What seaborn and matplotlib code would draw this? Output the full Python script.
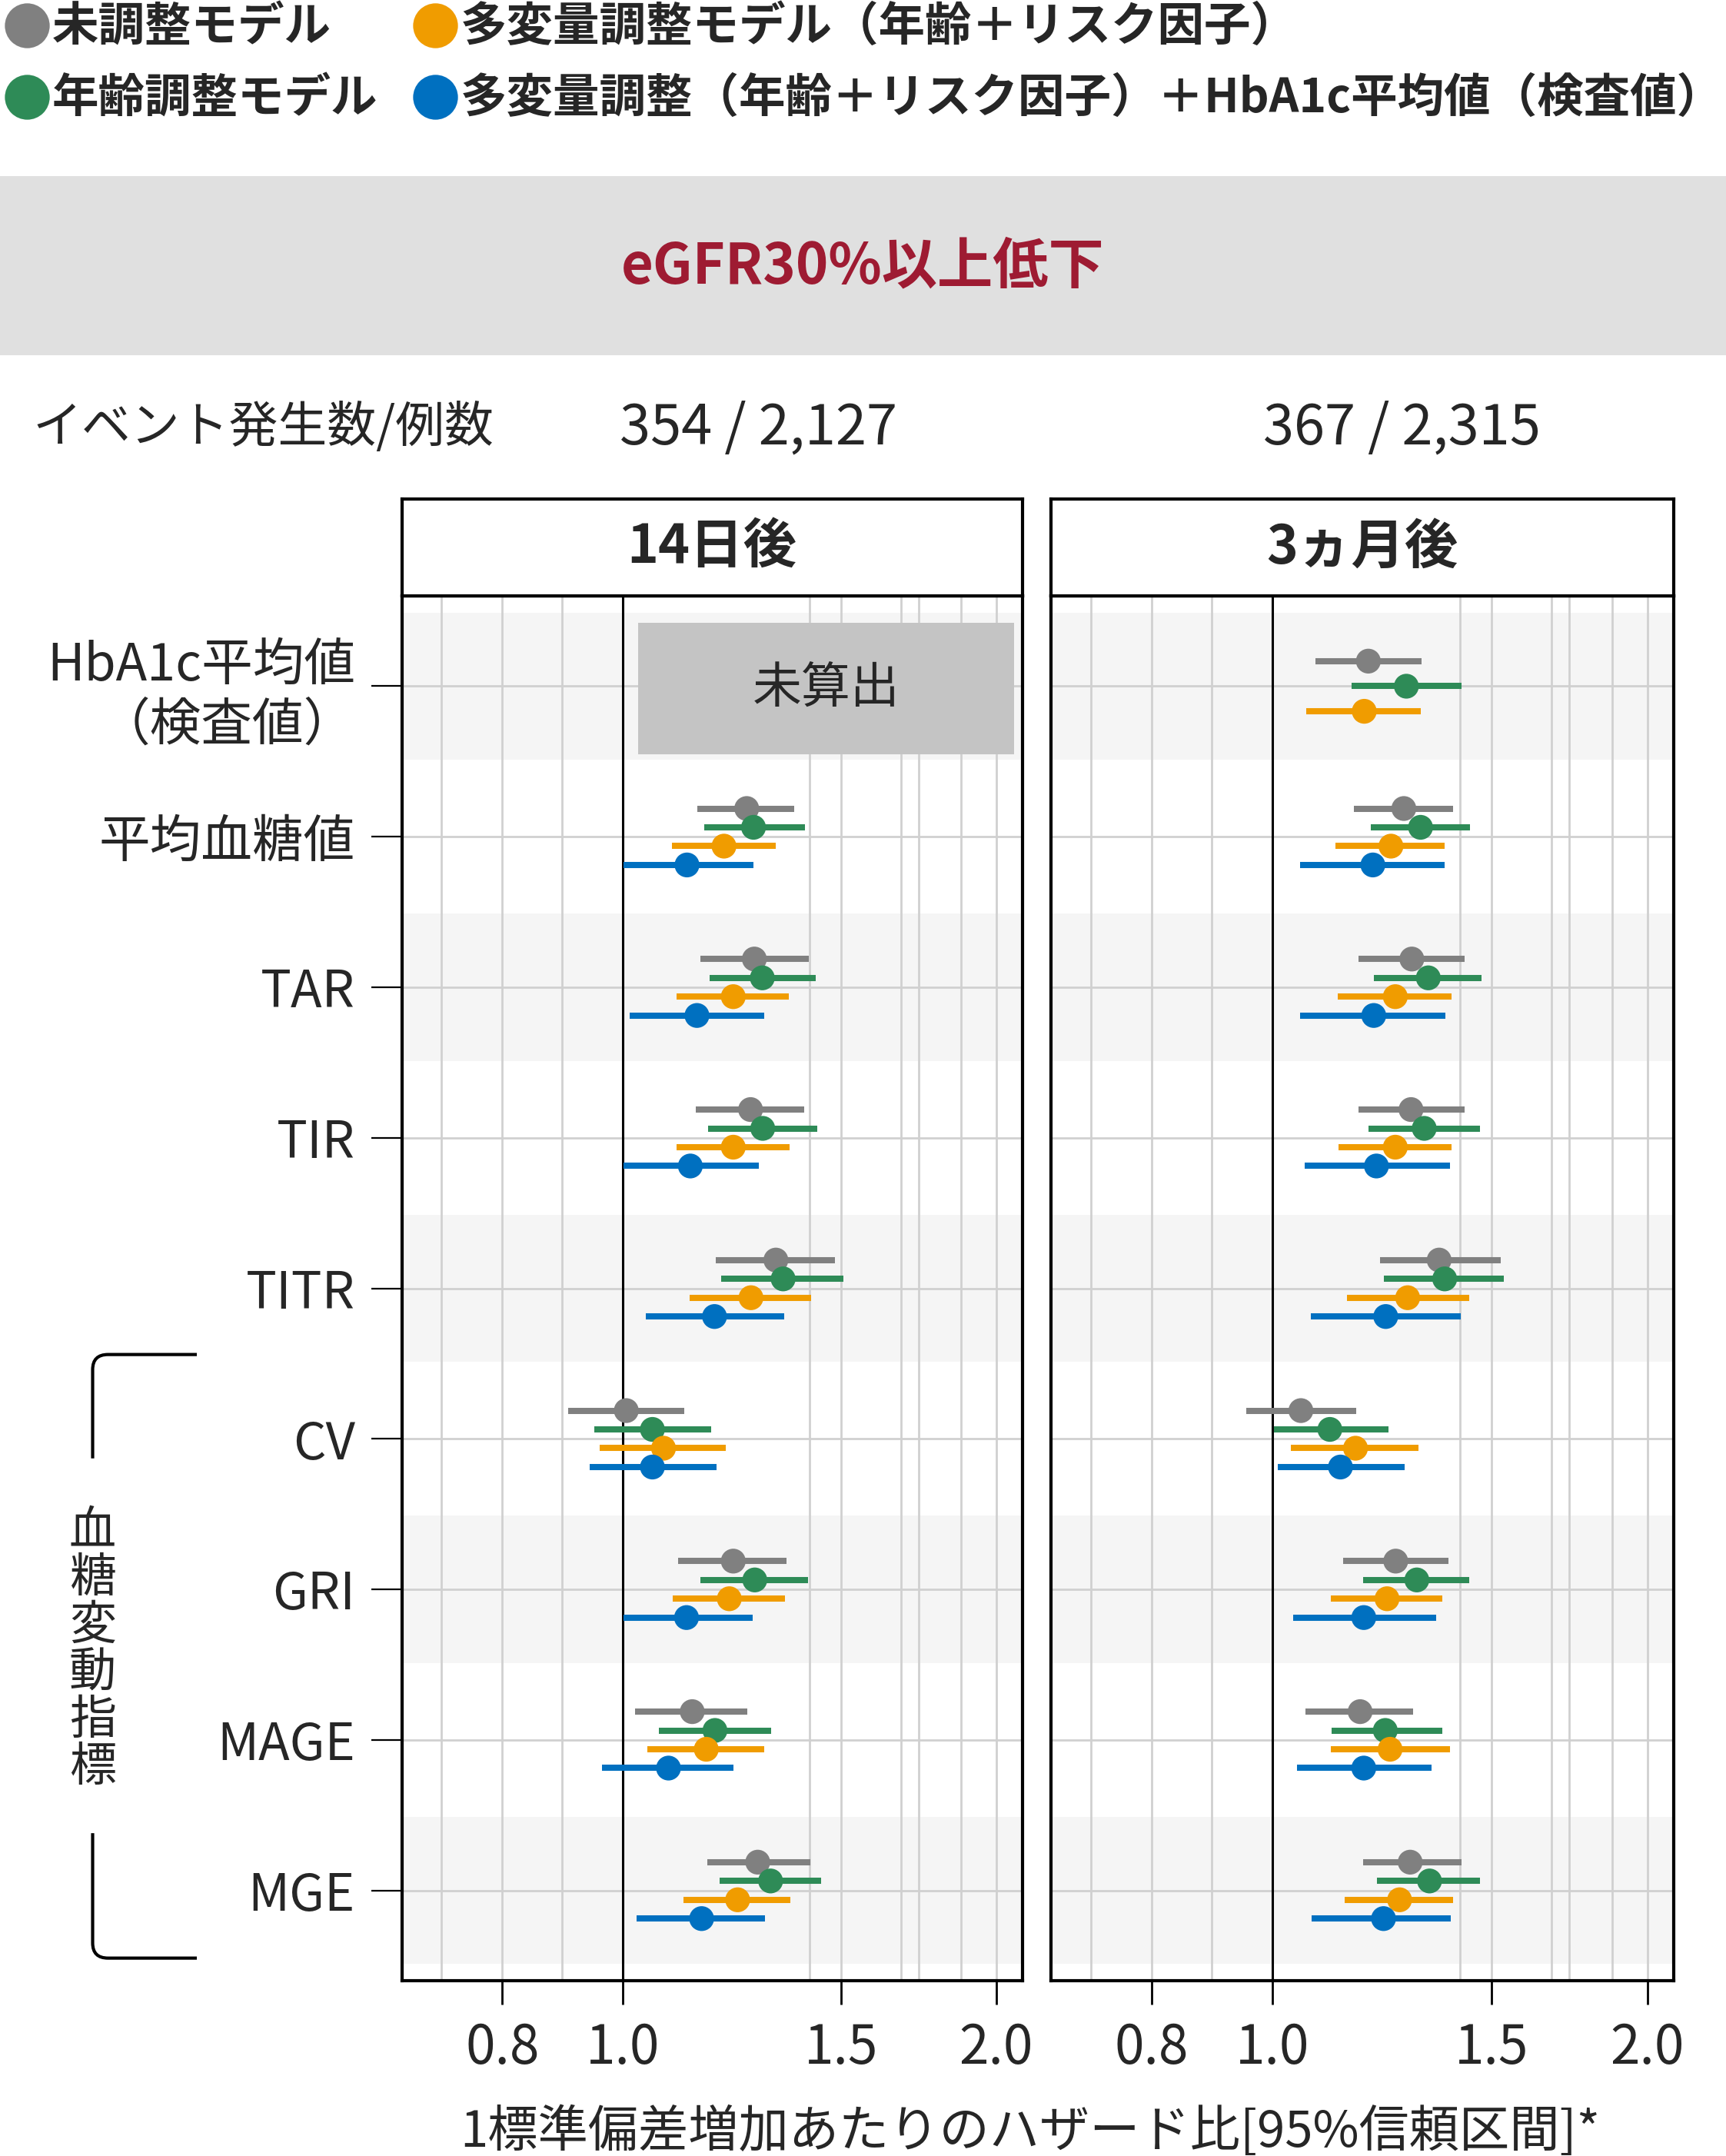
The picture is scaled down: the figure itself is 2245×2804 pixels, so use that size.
import numpy as np
import pandas as pd
import matplotlib
matplotlib.use("Agg")
import matplotlib.pyplot as plt
import matplotlib.transforms as mtransforms
from matplotlib.lines import Line2D
from matplotlib.patches import Rectangle, PathPatch
from matplotlib.path import Path
from matplotlib.ticker import FixedLocator, NullFormatter
import seaborn as sns

sns.set_theme(style="white")
plt.rcParams['font.family'] = ['Noto Sans CJK JP', 'DejaVu Sans']

# ---------------- data ----------------
categories = ["HbA1c平均値\n（検査値）", "平均血糖値", "TAR", "TIR", "TITR",
              "CV", "GRI", "MAGE", "MGE"]
models = ["未調整モデル", "年齢調整モデル",
          "多変量調整モデル（年齢＋リスク因子）",
          "多変量調整（年齢＋リスク因子）＋HbA1c平均値（検査値）"]
model_colors = ["#808080", "#2E8B57", "#F09C00", "#0070C0"]
panels = ["14日後", "3ヵ月後"]
event_counts = ["354 / 2,127", "367 / 2,315"]
nan = np.nan

# 14日後
d14_unadj_hr = [nan, 1.259, 1.277, 1.268, 1.329, 1.007, 1.228, 1.138, 1.285]
d14_unadj_lo = [nan, 1.149, 1.155, 1.145, 1.189, 0.904, 1.109, 1.024, 1.170]
d14_unadj_hi = [nan, 1.375, 1.412, 1.400, 1.482, 1.122, 1.356, 1.261, 1.416]
d14_age_hr = [nan, 1.275, 1.296, 1.297, 1.347, 1.057, 1.278, 1.187, 1.316]
d14_age_lo = [nan, 1.164, 1.176, 1.172, 1.201, 0.949, 1.156, 1.070, 1.198]
d14_age_hi = [nan, 1.402, 1.431, 1.434, 1.507, 1.178, 1.411, 1.317, 1.446]
d14_multi_hr = [nan, 1.207, 1.228, 1.228, 1.269, 1.079, 1.219, 1.168, 1.238]
d14_multi_lo = [nan, 1.096, 1.106, 1.105, 1.133, 0.958, 1.097, 1.047, 1.120]
d14_multi_hi = [nan, 1.328, 1.362, 1.363, 1.419, 1.211, 1.351, 1.301, 1.365]
d14_hba1c_hr = [nan, 1.127, 1.148, 1.134, 1.186, 1.057, 1.126, 1.089, 1.158]
d14_hba1c_lo = [nan, 1.002, 1.014, 1.002, 1.044, 0.941, 1.002, 0.963, 1.027]
d14_hba1c_hi = [nan, 1.274, 1.300, 1.287, 1.349, 1.190, 1.273, 1.228, 1.303]

# 3ヵ月後
m3_unadj_hr = [1.194, 1.275, 1.294, 1.292, 1.361, 1.054, 1.256, 1.176, 1.290]
m3_unadj_lo = [1.083, 1.163, 1.173, 1.172, 1.220, 0.953, 1.139, 1.063, 1.182]
m3_unadj_hi = [1.318, 1.396, 1.426, 1.426, 1.526, 1.168, 1.384, 1.297, 1.418]
m3_age_hr = [1.281, 1.315, 1.334, 1.324, 1.375, 1.112, 1.306, 1.232, 1.337]
m3_age_lo = [1.158, 1.199, 1.206, 1.195, 1.229, 1.003, 1.183, 1.115, 1.213]
m3_age_hi = [1.418, 1.440, 1.471, 1.468, 1.534, 1.240, 1.438, 1.369, 1.467]
m3_multi_hr = [1.185, 1.245, 1.255, 1.255, 1.284, 1.166, 1.236, 1.243, 1.265]
m3_multi_lo = [1.064, 1.123, 1.129, 1.130, 1.147, 1.035, 1.114, 1.114, 1.143]
m3_multi_hi = [1.316, 1.375, 1.393, 1.393, 1.438, 1.310, 1.369, 1.389, 1.396]
m3_hba1c_hr = [nan, 1.204, 1.206, 1.212, 1.233, 1.134, 1.184, 1.184, 1.228]
m3_hba1c_lo = [nan, 1.053, 1.053, 1.062, 1.074, 1.010, 1.039, 1.046, 1.075]
m3_hba1c_hi = [nan, 1.375, 1.377, 1.388, 1.416, 1.276, 1.353, 1.342, 1.391]

x_major = [0.8, 1.0, 1.5, 2.0]
x_major_labels = ["0.8", "1.0", "1.5", "2.0"]
x_minor = [0.715, 0.894, 1.414, 1.676, 1.732, 1.873]

series = {
    panels[0]: [(d14_unadj_hr, d14_unadj_lo, d14_unadj_hi),
                (d14_age_hr, d14_age_lo, d14_age_hi),
                (d14_multi_hr, d14_multi_lo, d14_multi_hi),
                (d14_hba1c_hr, d14_hba1c_lo, d14_hba1c_hi)],
    panels[1]: [(m3_unadj_hr, m3_unadj_lo, m3_unadj_hi),
                (m3_age_hr, m3_age_lo, m3_age_hi),
                (m3_multi_hr, m3_multi_lo, m3_multi_hi),
                (m3_hba1c_hr, m3_hba1c_lo, m3_hba1c_hi)],
}

rows = []
for p in panels:
    for mi, (hr, lo, hi) in enumerate(series[p]):
        for ci in range(len(categories)):
            rows.append(dict(panel=p, cat=ci, model=models[mi], mi=mi,
                             hr=hr[ci], lo=lo[ci], hi=hi[ci]))
df = pd.DataFrame(rows).dropna().reset_index(drop=True)

# dodge (width 0.5) among the models present in each row
DODGE = 0.5
def dodge(g):
    g = g.sort_values("mi").copy()
    n = len(g)
    g["y"] = g["cat"] + (np.arange(n) - (n - 1) / 2) * DODGE / n
    return g
df = pd.concat([dodge(g) for _, g in df.groupby(["panel", "cat"])], ignore_index=True)

palette = dict(zip(models, model_colors))

# ---------------- figure ----------------
W, H = 2245, 2804
DPI = 200
fig = plt.figure(figsize=(W / DPI, H / DPI), dpi=DPI)

def fx(px):
    return px / W

def fy(py):
    return 1 - py / H

panel_top, panel_bot = 775, 2576
strip_top = 649
panel_x = [(522.6, 1330), (1367, 2177)]

axes = []
for k, p in enumerate(panels):
    x0, x1 = panel_x[k]
    ax = fig.add_axes([fx(x0), fy(panel_bot), fx(x1 - x0), (panel_bot - panel_top) / H])
    axes.append(ax)
    ax.set_xscale("log")
    sub = df[df.panel == p]

    # alternating row bands
    for ci in range(0, len(categories), 2):
        ax.axhspan(ci - 0.49, ci + 0.49, color="#F5F5F5", zorder=0.1, lw=0)

    ax.axvline(1.0, color="black", lw=1.1, zorder=1.5)

    for m in models:
        s = sub[sub.model == m]
        ax.hlines(s["y"], s["lo"], s["hi"], colors=palette[m], lw=2.9, zorder=2)
    sns.scatterplot(data=sub, x="hr", y="y", hue="model", palette=palette,
                    hue_order=models, s=135, linewidth=0, legend=False,
                    zorder=3, ax=ax)

    ax.set_xlim(0.664, 2.10)
    ax.set_ylim(8.6, -0.6)
    ax.set_xlabel("")
    ax.set_ylabel("")
    ax.set_xticks(x_major)
    ax.set_xticklabels(x_major_labels, fontsize=25)
    ax.xaxis.set_minor_locator(FixedLocator(x_minor))
    ax.xaxis.set_minor_formatter(NullFormatter())
    ax.set_yticks(range(len(categories)))
    ax.set_axisbelow(True)
    ax.grid(True, which="both", axis="x", color="#D0D0D0", lw=1.0, zorder=0.5)
    ax.grid(True, which="major", axis="y", color="#D0D0D0", lw=1.0, zorder=0.5)
    ax.tick_params(axis="x", which="major", bottom=True, length=11, width=1.0,
                   color="black", pad=8, labelsize=25)
    ax.tick_params(axis="x", which="minor", bottom=False, length=0)
    if k == 0:
        ax.set_yticklabels(categories, fontsize=24)
        ax.tick_params(axis="y", left=True, length=14.4, width=0.8,
                       color="black", pad=7.5, labelsize=24)
    else:
        ax.set_yticklabels([])
        ax.tick_params(axis="y", left=False, length=0)
    for sp in ax.spines.values():
        sp.set_color("black")
        sp.set_linewidth(1.5)
        sp.set_visible(True)

    # strip header
    sax = fig.add_axes([fx(x0), fy(panel_top), fx(x1 - x0), (panel_top - strip_top) / H])
    sax.set_xticks([])
    sax.set_yticks([])
    sax.set_facecolor("white")
    for sp in sax.spines.values():
        sp.set_color("black")
        sp.set_linewidth(1.5)
        sp.set_visible(True)
    sax.text(0.5, 0.5, p, ha="center", va="center", fontsize=25,
             fontweight="bold", transform=sax.transAxes)

# "未算出" box in 14日後 HbA1c row
axL = axes[0]
axL.add_patch(Rectangle((1.029, -0.42), 2.066 - 1.029, 0.87, facecolor="#C4C4C4",
                        edgecolor="none", zorder=2.5))
axL.text(np.sqrt(1.029 * 2.066), 0.015, "未算出", ha="center", va="center",
         fontsize=23, zorder=3)

# ---------------- header ----------------
fig.patches.append(Rectangle((0, fy(462)), 1, (462 - 229) / H, facecolor="#E0E0E0",
                             edgecolor="none", transform=fig.transFigure, zorder=0))
fig.text(0.5, fy(347), "eGFR30%以上低下", ha="center", va="center", fontsize=26,
         fontweight="bold", color="#9E1B32")

fig.text(fx(43), fy(557), "イベント発生数/例数", ha="left", va="center", fontsize=23)
fig.text(fx(986), fy(557), event_counts[0], ha="center", va="center", fontsize=26)
fig.text(fx(1823), fy(557), event_counts[1], ha="center", va="center", fontsize=26)

# ---------------- legend ----------------
leg_pos = [(35, 33), (35, 126), (566, 33), (566, 126)]
leg_order = [0, 1, 2, 3]
for mi, (cx, cy) in zip(leg_order, leg_pos):
    fig.add_artist(Line2D([fx(cx)], [fy(cy)], marker="o", markersize=21,
                          color=model_colors[mi], markeredgewidth=0, linestyle="none",
                          transform=fig.transFigure))
    fig.text(fx(cx + 33), fy(cy + 2), models[mi], ha="left", va="center",
             fontsize=21.8, fontweight="bold")

# ---------------- bracket for 血糖変動指標 ----------------
tr = mtransforms.blended_transform_factory(fig.transFigure, axL.transData)
xv, xh = fx(120.5), fx(256)
rx, ry = fx(20), 0.1
y_top, y_top_end = 4.44, 5.13
y_bot_start, y_bot = 7.62, 8.45
top_path = Path([(xh, y_top), (xv + rx, y_top), (xv, y_top), (xv, y_top + ry), (xv, y_top_end)],
                [Path.MOVETO, Path.LINETO, Path.CURVE3, Path.CURVE3, Path.LINETO])
bot_path = Path([(xv, y_bot_start), (xv, y_bot - ry), (xv, y_bot), (xv + rx, y_bot), (xh, y_bot)],
                [Path.MOVETO, Path.LINETO, Path.CURVE3, Path.CURVE3, Path.LINETO])
for pth in (top_path, bot_path):
    pp = PathPatch(pth, transform=tr, fill=False, edgecolor="black", lw=1.5, clip_on=False)
    fig.patches.append(pp)
fig.text(xv, 6.40, "\n".join("血糖変動指標"), transform=tr, ha="center", va="center",
         fontsize=22, linespacing=0.98)

# ---------------- x title ----------------
fig.text(fx(1340), fy(2774), "1標準偏差増加あたりのハザード比[95%信頼区間]*",
         ha="center", va="center", fontsize=23.5)

fig.savefig("out.png", dpi=DPI)
